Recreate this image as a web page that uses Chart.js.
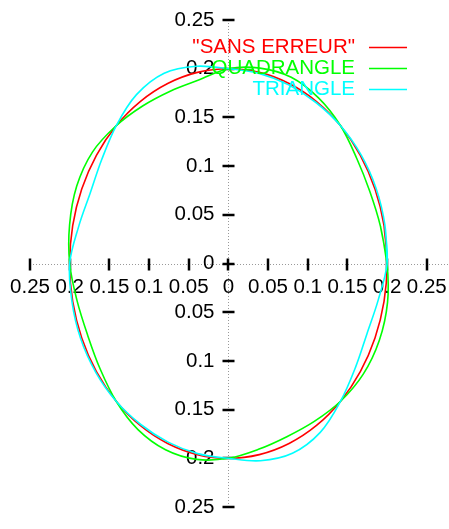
<!DOCTYPE html>
<html>
<head>
<meta charset="utf-8">
<title>Cercle</title>
<script src="https://cdn.jsdelivr.net/npm/chart.js@4.4.1/dist/chart.umd.min.js"></script>
<style>
  html, body { margin: 0; padding: 0; background: #fff; }
  canvas { display: block; }
</style>
</head>
<body>
<canvas id="chart" width="449" height="529"></canvas>
<script>
// tick values on both axes, labels printed as absolute values (gnuplot style)
const tickValues = [-0.25, -0.2, -0.15, -0.1, -0.05, 0, 0.05, 0.1, 0.15, 0.2, 0.25];
const tickLabels = ['0.25', '0.2', '0.15', '0.1', '0.05', '0', '0.05', '0.1', '0.15', '0.2', '0.25'];

const seriesNames = ['"SANS ERREUR"', 'QUADRANGLE', 'TRIANGLE'];
const seriesColors = ['#ff0000', '#00ff00', '#00ffff'];

// exact circle, r = 0.2
const sansErreurX = [0.2, 0.1962, 0.1848, 0.1663, 0.1414, 0.1111, 0.0765, 0.0390, 0, -0.0390, -0.0765, -0.1111, -0.1414, -0.1663, -0.1848, -0.1962,
                     -0.2, -0.1962, -0.1848, -0.1663, -0.1414, -0.1111, -0.0765, -0.0390, 0, 0.0390, 0.0765, 0.1111, 0.1414, 0.1663, 0.1848, 0.1962];
const sansErreurY = [0, 0.0390, 0.0765, 0.1111, 0.1414, 0.1663, 0.1848, 0.1962, 0.2, 0.1962, 0.1848, 0.1663, 0.1414, 0.1111, 0.0765, 0.0390,
                     0, -0.0390, -0.0765, -0.1111, -0.1414, -0.1663, -0.1848, -0.1962, -0.2, -0.1962, -0.1848, -0.1663, -0.1414, -0.1111, -0.0765, -0.0390];

// quadrangle elements
const quadrangleX = [0.2, 0.1917, 0.1783, 0.1617, 0.1414, 0.1136, 0.0792, 0.0399, 0, -0.0375, -0.0733, -0.1081, -0.1414, -0.1713, -0.1912, -0.2001,
                     -0.2, -0.1908, -0.1774, -0.1617, -0.1414, -0.1139, -0.0792, -0.0400, 0, 0.0379, 0.0737, 0.1083, 0.1414, 0.1700, 0.1903, 0.2006];
const quadrangleY = [0, 0.0381, 0.0739, 0.1081, 0.1414, 0.1700, 0.1912, 0.2006, 0.2, 0.1883, 0.1769, 0.1617, 0.1414, 0.1144, 0.0792, 0.0398,
                     0, -0.0379, -0.0735, -0.1081, -0.1414, -0.1705, -0.1912, -0.2011, -0.2, -0.1908, -0.1778, -0.1621, -0.1414, -0.1136, -0.0788, -0.0399];

// triangle elements
const triangleX = [0.2, 0.1973, 0.1862, 0.1671, 0.1414, 0.1104, 0.0760, 0.0388, 0, -0.0403, -0.0809, -0.1158, -0.1414, -0.1596, -0.1742, -0.1888,
                   -0.2, -0.1971, -0.1862, -0.1671, -0.1414, -0.1104, -0.0760, -0.0388, 0, 0.0403, 0.0807, 0.1158, 0.1414, 0.1601, 0.1746, 0.1888];
const triangleY = [0, 0.0393, 0.0771, 0.1117, 0.1414, 0.1653, 0.1834, 0.1952, 0.2, 0.2025, 0.1954, 0.1734, 0.1414, 0.1067, 0.0721, 0.0376,
                   0, -0.0392, -0.0771, -0.1117, -0.1414, -0.1653, -0.1834, -0.1952, -0.2, -0.2025, -0.1949, -0.1734, -0.1414, -0.1069, -0.0723, -0.0376];

const FONT = '20.5px "Liberation Sans", Arial, sans-serif';

// closed curve: repeat the first two points so the join stays smooth
function toPoints(xs, ys) {
    const pts = xs.map((x, i) => ({ x: x, y: ys[i] }));
    return pts.concat(pts.slice(0, 2));
}

function makeDataset(i, xs, ys) {
    return {
        label: seriesNames[i],
        data: toPoints(xs, ys),
        borderColor: seriesColors[i],
        backgroundColor: seriesColors[i],
        borderWidth: 1.6,
        showLine: true,
        pointRadius: 0,
        tension: 0.35,
        fill: false,
        order: 3 - i   // later series drawn on top
    };
}

// zero axes, tics and labels drawn through the chart scales
const zeroAxes = {
    id: 'zeroAxes',
    beforeDatasetsDraw(chart) {
        const { ctx, chartArea: area } = chart;
        const xs = chart.scales.x, ys = chart.scales.y;
        const x0 = Math.round(xs.getPixelForValue(0)) + 0.5;
        const y0 = Math.round(ys.getPixelForValue(0)) + 0.5;
        ctx.save();

        ctx.strokeStyle = '#999999';
        ctx.lineWidth = 1;
        ctx.setLineDash([1, 2]);
        ctx.beginPath();
        ctx.moveTo(area.left, y0);
        ctx.lineTo(area.right, y0);
        ctx.moveTo(x0, ys.getPixelForValue(0.25));
        ctx.lineTo(x0, ys.getPixelForValue(-0.25));
        ctx.stroke();
        ctx.setLineDash([]);

        ctx.strokeStyle = '#000';
        ctx.lineWidth = 2.5;
        ctx.beginPath();
        tickValues.forEach(v => {
            const px = Math.round(xs.getPixelForValue(v));
            ctx.moveTo(px, y0 - 6);
            ctx.lineTo(px, y0 + 6);
            const py = Math.round(ys.getPixelForValue(v));
            ctx.moveTo(x0 - 6, py);
            ctx.lineTo(x0 + 6, py);
        });
        ctx.stroke();

        ctx.fillStyle = '#000';
        ctx.font = FONT;
        ctx.textBaseline = 'middle';
        tickValues.forEach((v, i) => {
            ctx.textAlign = 'center';
            ctx.fillText(tickLabels[i], xs.getPixelForValue(v), y0 + 23);
            ctx.textAlign = 'right';
            ctx.fillText(tickLabels[i], x0 - 14, ys.getPixelForValue(v));
        });
        ctx.restore();
    },
    afterDatasetsDraw(chart) {
        const ctx = chart.ctx;
        ctx.save();
        ctx.font = FONT;
        ctx.textAlign = 'right';
        ctx.textBaseline = 'middle';
        chart.data.datasets.forEach((ds, i) => {
            const y = 47.5 + i * 21;
            ctx.fillStyle = ds.borderColor;
            ctx.fillText(ds.label, 355, y);
            ctx.strokeStyle = ds.borderColor;
            ctx.lineWidth = 1.6;
            ctx.beginPath();
            ctx.moveTo(369, y);
            ctx.lineTo(407, y);
            ctx.stroke();
        });
        ctx.restore();
    }
};

new Chart(document.getElementById('chart'), {
    type: 'scatter',
    data: {
        datasets: [
            makeDataset(0, sansErreurX, sansErreurY),
            makeDataset(1, quadrangleX, quadrangleY),
            makeDataset(2, triangleX, triangleY)
        ]
    },
    options: {
        responsive: false,
        animation: false,
        devicePixelRatio: 1,
        layout: { padding: { left: 30, right: 1, top: 20, bottom: 22 } },
        scales: {
            x: { type: 'linear', min: -0.25, max: 0.2768, display: false },
            y: { type: 'linear', min: -0.25, max: 0.25, display: false }
        },
        plugins: {
            legend: { display: false },
            tooltip: { enabled: false }
        }
    },
    plugins: [zeroAxes]
});
</script>
</body>
</html>
